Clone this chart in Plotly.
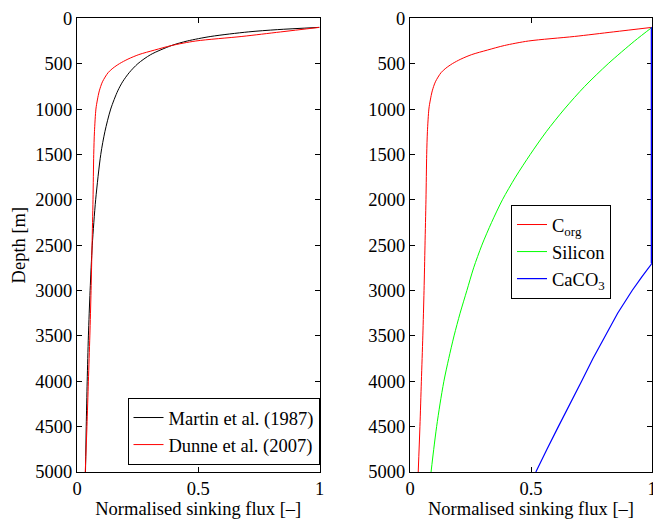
import plotly.graph_objects as go

# ---- data ----
martin_depth = [100, 125, 150, 200, 250, 300, 400, 500, 600, 700, 800, 1000, 1250, 1500,
                2000, 2500, 3000, 3500, 4000, 4500, 5000]
martin_flux = [1.0, 0.826, 0.706, 0.552, 0.455, 0.39, 0.304, 0.251, 0.215, 0.188, 0.168,
               0.139, 0.115, 0.098, 0.077, 0.063, 0.054, 0.047, 0.042, 0.038, 0.035]

dunne_depth = [100, 150, 200, 250, 300, 350, 400, 450, 500, 550, 600, 700, 800, 900, 1000,
               1250, 1500, 2000, 2500, 3000, 3500, 4000, 4500, 5000]
dunne_flux = [1.0, 0.84, 0.68, 0.49, 0.39, 0.32, 0.255, 0.21, 0.175, 0.148, 0.128, 0.105,
              0.092, 0.084, 0.078, 0.072, 0.069, 0.066, 0.062, 0.058, 0.053, 0.047, 0.041, 0.034]

si_depth = [100, 250, 500, 750, 1000, 1250, 1500, 1750, 2000, 2250, 2500, 2750, 3000,
            3250, 3500, 3750, 4000, 4250, 4500, 4750, 5000]
si_flux = [1.0, 0.928, 0.819, 0.722, 0.638, 0.563, 0.497, 0.436, 0.382, 0.337, 0.297, 0.263,
           0.235, 0.207, 0.182, 0.160, 0.140, 0.124, 0.110, 0.098, 0.087]

ca_depth = [100, 2700, 2850, 3000, 3250, 3500, 3750, 4000, 4250, 4500, 4750, 5000]
ca_flux = [1.0, 1.0, 0.958, 0.918, 0.858, 0.806, 0.756, 0.709, 0.66, 0.613, 0.566, 0.52]

x_ticks = [0, 0.5, 1]
x_ticklabels = ["0", "0.5", "1"]
y_ticks = list(range(0, 5001, 500))

FONT = "Liberation Serif"
FS = 18.5
W, H = 653, 521

fig = go.Figure()
fig.add_trace(go.Scatter(x=martin_flux, y=martin_depth, mode="lines", name="Martin et al. (1987)",
                         line=dict(color="black", width=1, shape="spline", smoothing=0.8),
                         xaxis="x", yaxis="y", legend="legend"))
fig.add_trace(go.Scatter(x=dunne_flux, y=dunne_depth, mode="lines", name="Dunne et al. (2007)",
                         line=dict(color="#ff0000", width=1, shape="spline", smoothing=0.8),
                         xaxis="x", yaxis="y", legend="legend"))
fig.add_trace(go.Scatter(x=dunne_flux, y=dunne_depth, mode="lines", name="C<sub>org</sub>",
                         line=dict(color="#ff0000", width=1, shape="spline", smoothing=0.8),
                         xaxis="x2", yaxis="y2", legend="legend2"))
fig.add_trace(go.Scatter(x=si_flux, y=si_depth, mode="lines", name="Silicon",
                         line=dict(color="#00ff00", width=1, shape="spline", smoothing=0.8),
                         xaxis="x2", yaxis="y2", legend="legend2"))
# the part of the CaCO3 profile lying on the right frame (clipped to half width there)
fig.add_trace(go.Scatter(x=ca_flux[:2], y=ca_depth[:2], mode="lines", showlegend=False,
                         line=dict(color="#0000ff", width=2.6), hoverinfo="skip",
                         xaxis="x2", yaxis="y2", legend="legend2"))
fig.add_trace(go.Scatter(x=ca_flux, y=ca_depth, mode="lines", name="CaCO<sub>3</sub>",
                         line=dict(color="#0000ff", width=1.2, shape="linear"),
                         xaxis="x2", yaxis="y2", legend="legend2"))

tickfont = dict(family=FONT, size=FS, color="black")
xax = dict(range=[0, 1], tickvals=x_ticks, ticktext=x_ticklabels, ticks="inside", ticklen=5,
           tickcolor="black", showline=True, linecolor="black", linewidth=1, mirror="ticks",
           showgrid=False, zeroline=False, tickfont=tickfont, automargin=False,
           layer="below traces", ticklabeloverflow="allow")
yax = dict(range=[5000, 0], tickvals=y_ticks, ticks="inside", ticklen=5, tickcolor="black",
           showline=True, linecolor="black", linewidth=1, mirror="ticks", showgrid=False,
           zeroline=False, tickfont=tickfont, automargin=False, layer="below traces")

y_dom = [(H - 472) / H, (H - 18.3) / H]
xtitle = dict(text="Normalised sinking flux [–]", standoff=2, font=dict(family=FONT, size=FS))
fig.update_layout(
    width=W, height=H, margin=dict(l=0, r=0, t=0, b=0),
    paper_bgcolor="white", plot_bgcolor="white",
    font=dict(family=FONT, size=FS, color="black"),
    xaxis=dict(xax, domain=[77 / W, 319.5 / W], anchor="y", title=xtitle),
    yaxis=dict(yax, domain=y_dom, anchor="x",
               title=dict(text="Depth [m]", standoff=4, font=dict(family=FONT, size=FS))),
    xaxis2=dict(xax, domain=[410 / W, 652 / W], anchor="y2", title=xtitle),
    yaxis2=dict(yax, domain=y_dom, anchor="x2"),
    legend=dict(x=319.5 / W, xanchor="right", y=(H - 465) / H, yanchor="bottom",
                bgcolor="white", bordercolor="black", borderwidth=1,
                font=dict(family=FONT, size=FS), tracegroupgap=0, itemwidth=30),
    legend2=dict(x=511 / W, xanchor="left", y=(H - 205) / H, yanchor="top",
                 bgcolor="white", bordercolor="black", borderwidth=1,
                 font=dict(family=FONT, size=FS), tracegroupgap=0, itemwidth=30),
    showlegend=True,
)

fig.write_html("out.html")
